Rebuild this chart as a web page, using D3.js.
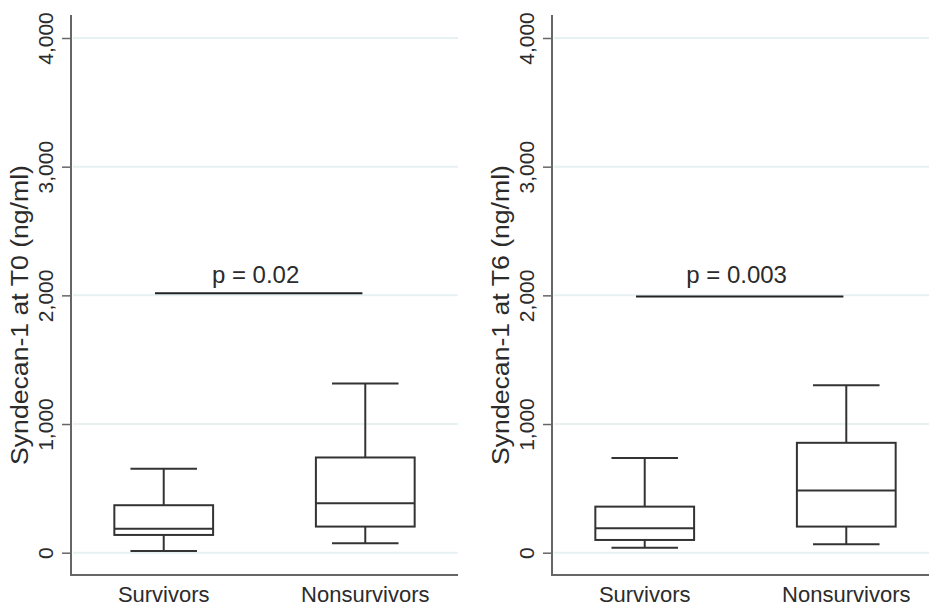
<!DOCTYPE html>
<html>
<head>
<meta charset="utf-8">
<script src="https://cdn.jsdelivr.net/npm/d3@7"></script>
<style>
  body { margin: 0; background: #fff; }
  svg { display: block; font-family: "Liberation Sans", Arial, sans-serif; }
</style>
</head>
<body>
<svg id="chart" width="929" height="612"></svg>
<script>
// categories and tick values
var groups = ["Survivors", "Nonsurvivors"];
var yTicks = [0, 1000, 2000, 3000, 4000];

// box summaries: [lower whisker, q1, median, q3, upper whisker]
var t0Survivors    = [13, 138, 187, 369, 652];
var t0Nonsurvivors = [73, 203, 385, 740, 1314];
var t6Survivors    = [39, 99, 190, 358, 735];
var t6Nonsurvivors = [65, 203, 483, 854, 1301];

var panelTitles = ["Syndecan-1 at T0 (ng/ml)", "Syndecan-1 at T6 (ng/ml)"];
var pLabels = ["p = 0.02", "p = 0.003"];
var pLineValues = [2017, 1991];
var pTextValue = 2095;

var svg = d3.select("#chart");

var panelW = 387,
    plotTop = 15,
    plotBottom = 575;

var y = d3.scaleLinear().domain([0, 4000]).range([552.7, 38]);

//Draw one panel of the figure
function drawPanel(left, title, boxes, pLabel, pValue) {
  var g = svg.append("g").attr("transform", "translate(" + left + ",0)");

  var x = d3.scalePoint().domain(groups).range([0, panelW]).padding(0.46);
  var step = x.step();
  var boxW = step * 0.49, capW = step * 0.33;
  var frac = d3.scaleLinear().domain([0, 1]).range([0, panelW]);

  // gridlines
  g.append("g").selectAll("line")
    .data(yTicks)
    .enter().append("line")
    .attr("x1", 2).attr("x2", panelW)
    .attr("y1", function(d) { return y(d); })
    .attr("y2", function(d) { return y(d); })
    .attr("stroke", "#e8f1f2")
    .attr("stroke-width", 2);

  // y axis
  var yAxis = g.append("g")
    .call(d3.axisLeft(y).tickValues(yTicks).tickFormat(d3.format(",")).tickSize(9).tickPadding(9))
    .attr("font-family", null);
  yAxis.select(".domain").remove();
  yAxis.selectAll(".tick line").attr("stroke", "#666").attr("stroke-width", 1.5);
  yAxis.selectAll(".tick text")
    .attr("transform", "rotate(-90)")
    .attr("x", 0).attr("y", -18).attr("dy", null)
    .attr("text-anchor", "middle")
    .attr("fill", "#2b2b2b")
    .style("font-size", "21px");

  // axis lines
  g.append("path")
    .attr("d", "M0," + plotTop + "V" + plotBottom + "H" + panelW)
    .attr("fill", "none")
    .attr("stroke", "#666")
    .attr("stroke-width", 2);

  // x labels
  g.append("g").selectAll("text")
    .data(groups)
    .enter().append("text")
    .attr("x", function(d) { return x(d); })
    .attr("y", 602)
    .attr("text-anchor", "middle")
    .attr("fill", "#2b2b2b")
    .style("font-size", "22px")
    .text(function(d) { return d; });

  // y title
  g.append("text")
    .attr("transform", "translate(-43,315) rotate(-90)")
    .attr("text-anchor", "middle")
    .attr("fill", "#2b2b2b")
    .attr("textLength", 300)
    .attr("lengthAdjust", "spacingAndGlyphs")
    .style("font-size", "23px")
    .text(title);

  // boxes
  var box = g.append("g").selectAll("g")
    .data(boxes)
    .enter().append("g")
    .attr("stroke", "#333")
    .attr("stroke-width", 2)
    .attr("fill", "none");

  box.append("line")
    .attr("x1", function(d, i) { return x(groups[i]); })
    .attr("x2", function(d, i) { return x(groups[i]); })
    .attr("y1", function(d) { return y(d[0]); })
    .attr("y2", function(d) { return y(d[1]); });
  box.append("line")
    .attr("x1", function(d, i) { return x(groups[i]); })
    .attr("x2", function(d, i) { return x(groups[i]); })
    .attr("y1", function(d) { return y(d[3]); })
    .attr("y2", function(d) { return y(d[4]); });
  [0, 4].forEach(function(k) {
    box.append("line")
      .attr("x1", function(d, i) { return x(groups[i]) - capW / 2; })
      .attr("x2", function(d, i) { return x(groups[i]) + capW / 2; })
      .attr("y1", function(d) { return y(d[k]); })
      .attr("y2", function(d) { return y(d[k]); });
  });
  box.append("rect")
    .attr("x", function(d, i) { return x(groups[i]) - boxW / 2; })
    .attr("width", boxW)
    .attr("y", function(d) { return y(d[3]); })
    .attr("height", function(d) { return y(d[1]) - y(d[3]); });
  box.append("line")
    .attr("x1", function(d, i) { return x(groups[i]) - boxW / 2; })
    .attr("x2", function(d, i) { return x(groups[i]) + boxW / 2; })
    .attr("y1", function(d) { return y(d[2]); })
    .attr("y2", function(d) { return y(d[2]); });

  // p value bracket
  g.append("line")
    .attr("x1", frac(0.217)).attr("x2", frac(0.753))
    .attr("y1", y(pValue)).attr("y2", y(pValue))
    .attr("stroke", "#222")
    .attr("stroke-width", 2);
  g.append("text")
    .attr("x", frac(0.477))
    .attr("y", y(pTextValue))
    .attr("text-anchor", "middle")
    .attr("fill", "#2b2b2b")
    .style("font-size", "24px")
    .text(pLabel);
}

drawPanel(71, panelTitles[0], [t0Survivors, t0Nonsurvivors], pLabels[0], pLineValues[0]);
drawPanel(552, panelTitles[1], [t6Survivors, t6Nonsurvivors], pLabels[1], pLineValues[1]);
</script>
</body>
</html>
